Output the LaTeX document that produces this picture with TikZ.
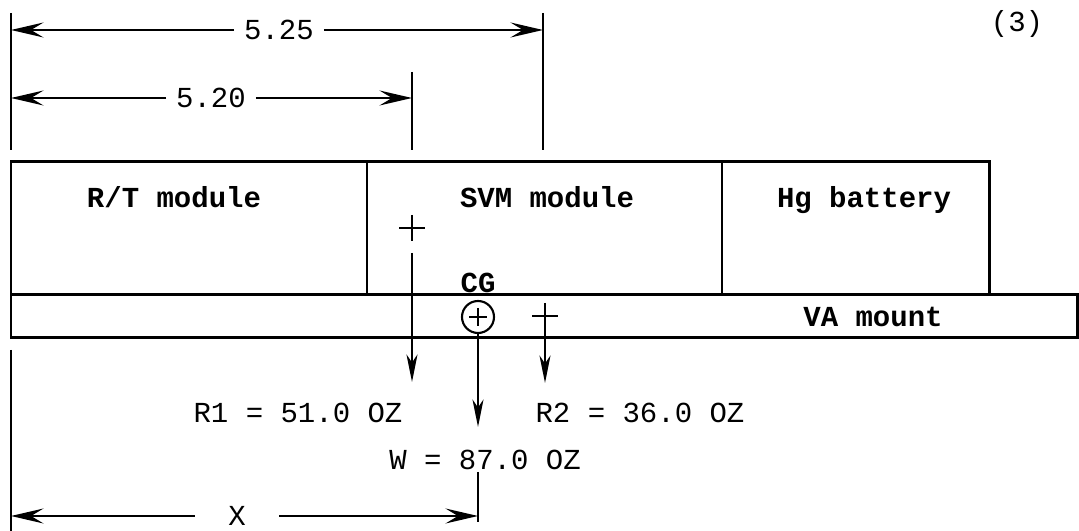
\documentclass[tikz,border=0pt]{standalone}
\usepackage{fontspec}
\setmonofont{Liberation Mono}
\usetikzlibrary{arrows.meta}

\begin{document}
\begin{tikzpicture}[x=0.2mm, y=-0.2mm, line width=1.2pt,
  txt/.style={font=\ttfamily\fontsize{16.5}{20}\selectfont, inner sep=1pt},
  parttxt/.style={txt, font=\ttfamily\bfseries\fontsize{16.5}{20}\selectfont},
  dimtxt/.style={txt, inner xsep=1.8mm},
  dimline/.style={-{Stealth[length=6.5mm,width=3mm,inset=2.5mm]}},
  force/.style={-{Stealth[length=5.5mm,width=2.2mm,inset=1.6mm]}},
  part/.style={line width=1.7pt}]
  \useasboundingbox (0,0) rectangle (1079,531);

  % The three modules and the mount below them
  \draw[part] (11,162) rectangle (367,295);
  \draw[part] (367,162) rectangle (722,295);
  \draw[part] (722,162) rectangle (989,295);
  \draw[part] (11,295) rectangle (1077,338);

  \node[parttxt, anchor=base] (rt) at (174,208) {R/T module};
  \node[parttxt, anchor=base] (svm) at (547,208) {SVM module};
  \node[parttxt, anchor=base] (hg) at (864,208) {Hg battery};
  \node[parttxt] (va) at (873,317) {VA mount};

  % Extension lines of the dimensions
  \foreach \x/\a/\b in {11/13/150, 412/72/150, 543/13/150, 11/350/531, 478/472/522}
    \draw (\x,\a) -- (\x,\b);

  % Dimension 5.25
  \node[dimtxt] (d525) at (279,30) {5.25};
  \coordinate (d525l) at (11,30);
  \coordinate (d525r) at (543,30);
  \draw[dimline] (d525) -- (d525l);
  \draw[dimline] (d525) -- (d525r);

  % Dimension 5.20
  \node[dimtxt] (d520) at (211,98) {5.20};
  \coordinate (d520l) at (11,98);
  \coordinate (d520r) at (412,98);
  \draw[dimline] (d520) -- (d520l);
  \draw[dimline] (d520) -- (d520r);

  % Dimension X
  \node[dimtxt, inner xsep=6.5mm] (dx) at (237,516) {X};
  \coordinate (dxl) at (11,516);
  \coordinate (dxr) at (478,516);
  \draw[dimline] (dx) -- (dxl);
  \draw[dimline] (dx) -- (dxr);

  % Centres of gravity
  \coordinate (svmcg) at (412,228);
  \coordinate (hgcg) at (545,316);
  \coordinate (cg) at (478,317);
  \foreach \p in {svmcg, hgcg}
    \draw (\p) +(-13,0) -- +(13,0) +(0,-13) -- +(0,13);
  \draw (cg) circle[radius=16];
  \draw (cg) +(-9,0) -- +(9,0) +(0,-9) -- +(0,9);
  \node[parttxt] (cglabel) at (478,283) {CG};

  % Reactions and weight
  \coordinate (r1top) at (412,253);
  \coordinate (r1tip) at (412,382);
  \coordinate (wtop) at (478,333);
  \coordinate (wtip) at (478,427);
  \coordinate (r2top) at (545,329);
  \coordinate (r2tip) at (545,383);
  \draw[force] (r1top) -- (r1tip);
  \draw[force] (wtop) -- (wtip);
  \draw[force] (r2top) -- (r2tip);

  \node[txt] (r1) at (298,413) {R1 = 51.0 OZ};
  \node[txt] (r2) at (640,413) {R2 = 36.0 OZ};
  \node[txt] (w) at (485,460) {W = 87.0 OZ};

  % Figure number
  \node[txt] (fig) at (1017,24) {(3)};
\end{tikzpicture}
\end{document}
